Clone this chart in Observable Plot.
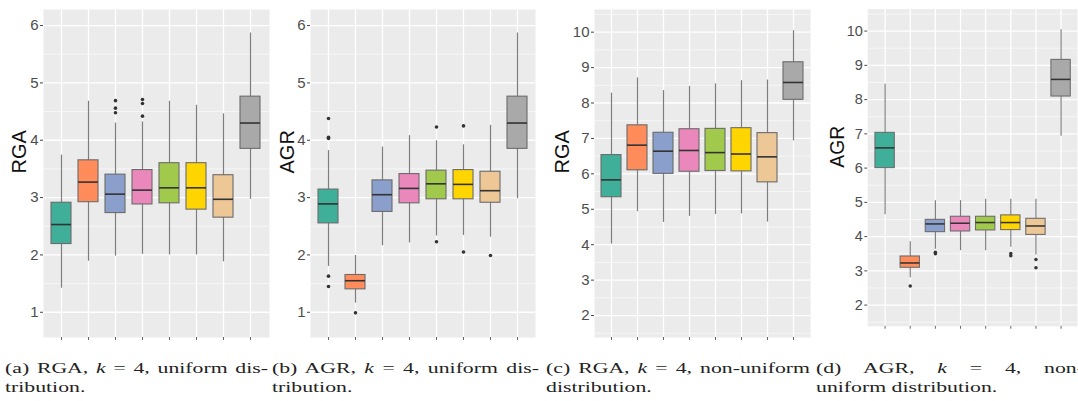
<!DOCTYPE html>
<html>
<head>
<meta charset="utf-8">
<script src="https://cdn.jsdelivr.net/npm/d3@7"></script>
<script src="https://cdn.jsdelivr.net/npm/@observablehq/plot@0.6"></script>
<style>
  html, body { margin: 0; padding: 0; background: #fff; }
  #fig { position: relative; width: 1078px; height: 401px; overflow: hidden; background: #fff; }
  .panel { position: absolute; top: 0; }
  .cap { position: absolute; top: 359px; font-family: "Liberation Serif", "DejaVu Serif", serif; font-size: 15px; line-height: 19px; color: #222; transform: scaleX(1.45); transform-origin: 0 0; }
  .cap .l1 { text-align: justify; text-align-last: justify; white-space: nowrap; }
</style>
</head>
<body>
<div id="fig"></div>
<script>
const categories = ["m1", "m2", "m3", "m4", "m5", "m6", "m7", "m8"];
const colors = ["#3FAF9A", "#FF8C5A", "#8A9FCB", "#EA88BC", "#A1CA4C", "#FFD500", "#EDC796", "#A9A9A9"];

// (a) RGA, uniform
const aLow  = [1.42, 1.89, 1.98, 2.01, 2.00, 2.00, 1.88, 2.97];
const aQ1   = [2.19, 2.92, 2.73, 2.88, 2.90, 2.79, 2.65, 3.85];
const aMed  = [2.53, 3.27, 3.06, 3.13, 3.17, 3.17, 2.97, 4.30];
const aQ3   = [2.91, 3.65, 3.40, 3.48, 3.60, 3.60, 3.39, 4.76];
const aHigh = [3.74, 4.68, 4.30, 4.32, 4.68, 4.61, 4.46, 5.87];
const aOut  = [[2, 4.69], [2, 4.56], [2, 4.48], [3, 4.71], [3, 4.64], [3, 4.42]];

// (b) AGR, uniform
const bLow  = [1.80, 1.16, 2.16, 2.21, 2.33, 2.34, 2.31, 2.98];
const bQ1   = [2.55, 1.40, 2.75, 2.90, 2.97, 2.97, 2.91, 3.85];
const bMed  = [2.89, 1.55, 3.05, 3.16, 3.24, 3.23, 3.12, 4.30];
const bQ3   = [3.14, 1.65, 3.30, 3.41, 3.47, 3.48, 3.45, 4.76];
const bHigh = [3.82, 1.99, 3.88, 4.08, 3.99, 3.92, 4.26, 5.87];
const bOut  = [[0, 4.38], [0, 4.05], [0, 4.03], [0, 1.63], [0, 1.45], [1, 0.99], [4, 4.23], [4, 2.23], [5, 4.25], [5, 2.05], [6, 1.99]];

// (c) RGA, non-uniform
const cLow  = [4.02, 4.93, 4.63, 4.80, 4.85, 4.87, 4.64, 6.93];
const cQ1   = [5.34, 6.10, 6.00, 6.06, 6.08, 6.07, 5.76, 8.09];
const cMed  = [5.83, 6.81, 6.64, 6.66, 6.60, 6.56, 6.48, 8.58];
const cQ3   = [6.53, 7.37, 7.16, 7.26, 7.27, 7.29, 7.15, 9.15];
const cHigh = [8.28, 8.71, 8.35, 8.47, 8.54, 8.63, 8.65, 10.04];
const cOut  = [];

// (d) AGR, non-uniform
const dLow  = [4.64, 2.80, 3.63, 3.59, 3.59, 3.69, 3.46, 6.93];
const dQ1   = [6.00, 3.09, 4.13, 4.15, 4.18, 4.19, 4.05, 8.09];
const dMed  = [6.59, 3.23, 4.37, 4.39, 4.41, 4.41, 4.31, 8.59];
const dQ3   = [7.03, 3.42, 4.49, 4.58, 4.58, 4.62, 4.52, 9.16];
const dHigh = [8.45, 3.85, 5.05, 5.05, 5.09, 5.09, 5.09, 10.04];
const dOut  = [[1, 2.56], [2, 3.54], [2, 3.50], [5, 3.51], [5, 3.44], [6, 3.33], [6, 3.09]];

const ticksAB = [1, 2, 3, 4, 5, 6];
const minorAB = [1.5, 2.5, 3.5, 4.5, 5.5];
const ticksCD = [2, 3, 4, 5, 6, 7, 8, 9, 10];
const minorCD = [1.5, 2.5, 3.5, 4.5, 5.5, 6.5, 7.5, 8.5, 9.5, 10.5];

const captions = [
  ["(a) RGA, <i>k</i> = 4, uniform dis-", "tribution."],
  ["(b) AGR, <i>k</i> = 4, uniform dis-", "tribution."],
  ["(c) RGA, <i>k</i> = 4, non-uniform", "distribution."],
  ["(d) AGR, <i>k</i> = 4, non-", "uniform distribution."]
];
const capScale = 1.45;

function panel({label, low, q1, med, q3, high, out, domain, ticks, minor, left, width, marginLeft, labelDx, capLeft, capWidth}, k) {
  const rows = categories.map((c, i) => ({c, color: colors[i], low: low[i], q1: q1[i], med: med[i], q3: q3[i], high: high[i]}));
  const outs = out.map(([i, v]) => ({c: categories[i], v}));
  const chart = Plot.plot({
    width, height: 345,
    marginLeft, marginRight: 1, marginTop: 9, marginBottom: 8,
    style: {fontFamily: "'Liberation Sans', Arial, sans-serif", fontSize: "15px", color: "#4d4d4d", background: "transparent"},
    x: {domain: categories, type: "band", paddingInner: 0.25, paddingOuter: 0.225, axis: null},
    y: {domain, axis: null},
    color: {type: "identity"},
    marks: [
      Plot.frame({fill: "#EBEBEB", stroke: null}),
      Plot.ruleY(minor, {stroke: "#fff", strokeWidth: 0.6}),
      Plot.ruleY(ticks, {stroke: "#fff", strokeWidth: 1.3}),
      Plot.ruleX(categories, {x: d => d, stroke: "#fff", strokeWidth: 1.3}),
      Plot.axisY({ticks, tickFormat: d3.format("d"), tickSize: 3, tickPadding: 2, fontSize: 15, label: null, stroke: "#444", fill: "#4d4d4d"}),
      Plot.axisX({tickSize: 3, tickFormat: () => "", label: null, stroke: "#666"}),
      Plot.ruleX(rows, {x: "c", y1: "low", y2: "high", stroke: "#7d7d7d", strokeWidth: 1.2}),
      Plot.barY(rows, {x: "c", y1: "q1", y2: "q3", fill: "color", stroke: "#6b6b6b", strokeWidth: 1.1}),
      Plot.tickY(rows, {x: "c", y: "med", stroke: "#333", strokeWidth: 1.6}),
      Plot.dot(outs, {x: "c", y: "v", r: 1.8, fill: "#333", stroke: null}),
      Plot.text([label], {frameAnchor: "left", text: d => d, rotate: -90, dx: labelDx, fontSize: 20, fill: "#111"})
    ]
  });
  const div = document.createElement("div");
  div.className = "panel";
  div.style.left = left + "px";
  div.appendChild(chart);
  fig.appendChild(div);
  const cap = document.createElement("div");
  cap.className = "cap";
  cap.style.left = capLeft + "px";
  cap.style.width = (capWidth / capScale) + "px";
  cap.innerHTML = `<div class="l1">${captions[k][0]}</div><div>${captions[k][1]}</div>`;
  fig.appendChild(cap);
}

const fig = document.getElementById("fig");
panel({label: "RGA", low: aLow, q1: aQ1, med: aMed, q3: aQ3, high: aHigh, out: aOut,
  domain: [0.56, 6.28], ticks: ticksAB, minor: minorAB, left: 0, width: 270, marginLeft: 43, labelDx: -24, capLeft: 5, capWidth: 263}, 0);
panel({label: "AGR", low: bLow, q1: bQ1, med: bMed, q3: bQ3, high: bHigh, out: bOut,
  domain: [0.56, 6.28], ticks: ticksAB, minor: minorAB, left: 270, width: 266, marginLeft: 40, labelDx: -23, capLeft: 272, capWidth: 267}, 1);
panel({label: "RGA", low: cLow, q1: cQ1, med: cMed, q3: cQ3, high: cHigh, out: cOut,
  domain: [1.38, 10.64], ticks: ticksCD, minor: minorCD, left: 545, width: 266, marginLeft: 49, labelDx: -32, capLeft: 546, capWidth: 264}, 2);
panel({label: "AGR", low: dLow, q1: dQ1, med: dMed, q3: dQ3, high: dHigh, out: dOut,
  domain: [1.38, 10.64], ticks: ticksCD, minor: minorCD, left: 815, width: 272, marginLeft: 54, labelDx: -31, capLeft: 816, capWidth: 268}, 3);
</script>
</body>
</html>
